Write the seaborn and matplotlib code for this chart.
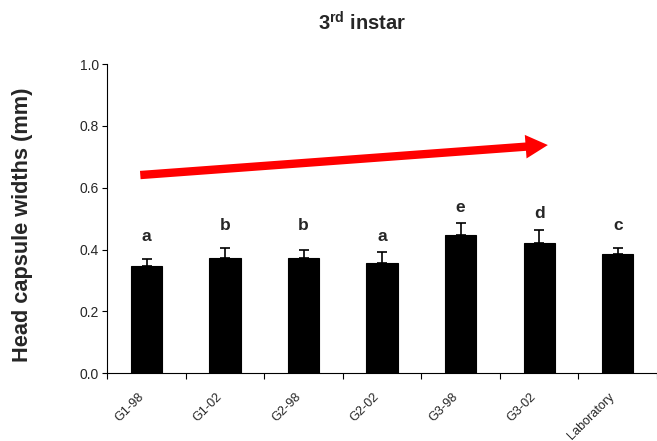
import matplotlib
matplotlib.use("Agg")
import matplotlib.pyplot as plt
from matplotlib.patches import FancyArrowPatch
from matplotlib.ticker import FixedLocator
import seaborn as sns
import numpy as np

categories = ["G1-98", "G1-02", "G2-98", "G2-02", "G3-98", "G3-02", "Laboratory"]
means = [0.346, 0.372, 0.372, 0.358, 0.446, 0.421, 0.387]
errors = [0.024, 0.033, 0.026, 0.035, 0.039, 0.043, 0.019]
letters = ["a", "b", "b", "a", "e", "d", "c"]
letter_heights = [0.443, 0.479, 0.479, 0.443, 0.537, 0.518, 0.479]
arrow_start = (-0.08, 0.641)
arrow_end = (5.11, 0.738)
yticks = [0.0, 0.2, 0.4, 0.6, 0.8, 1.0]

sns.set_style("ticks")
plt.rcParams["font.family"] = ["Liberation Sans", "DejaVu Sans"]
plt.rcParams["mathtext.fontset"] = "custom"
plt.rcParams["mathtext.bf"] = "Liberation Sans:bold"
plt.rcParams["mathtext.rm"] = "Liberation Sans"

fig = plt.figure(figsize=(6.57, 4.41), dpi=100)
ax = fig.add_axes([107.3 / 657, 1 - 373.3 / 441, (657 - 107.3) / 657, (373.3 - 64) / 441])

sns.barplot(x=categories, y=means, color="black", width=0.4, ax=ax,
            edgecolor="black", linewidth=0.8, saturation=1)
x = np.arange(len(categories))
ax.errorbar(x, means, yerr=[np.zeros(len(errors)), errors], fmt="none",
            ecolor="black", elinewidth=1.2, capsize=3.3, capthick=1.2)

for xi, lab, h in zip(x, letters, letter_heights):
    ax.text(xi, h, lab, ha="center", va="center", fontsize=12.5, fontweight="bold")

arrow = FancyArrowPatch(arrow_start, arrow_end, transform=ax.transData,
                        arrowstyle="simple,head_length=16,head_width=17,tail_width=6",
                        mutation_scale=1, color="#ff0000", linewidth=0,
                        shrinkA=0, shrinkB=0, clip_on=False)
ax.add_patch(arrow)

ax.set_xlim(-0.5, len(categories) - 0.5)
ax.set_ylim(0, 1.0)
ax.set_yticks(yticks)
ax.set_yticklabels([f"{v:.1f}" for v in yticks], fontsize=10)
ax.set_xticks(x)
ax.set_xticklabels([])
for xi, cat in zip(x, categories):
    ax.annotate(cat, xy=(xi, 0), xycoords=("data", "axes fraction"),
                xytext=(-6.5, -12.5), textcoords="offset points",
                rotation=45, ha="right", va="top", rotation_mode="anchor",
                fontsize=9.1, annotation_clip=False)
ax.xaxis.set_minor_locator(FixedLocator(np.arange(-0.5, len(categories), 1.0)))
ax.tick_params(axis="x", which="major", length=0)
ax.tick_params(axis="x", which="minor", length=4, width=0.8, direction="out", color="black")
ax.tick_params(axis="y", length=3.5, width=0.8, direction="out", color="black", pad=2.5)
for s in ["top", "right"]:
    ax.spines[s].set_visible(False)
for s in ["left", "bottom"]:
    ax.spines[s].set_color("black")
    ax.spines[s].set_linewidth(0.8)
ax.set_xlabel("")
ax.set_ylabel("Head capsule widths (mm)", fontsize=15.7, fontweight="bold")
ax.yaxis.set_label_coords(-0.136, 0.48)

fig.text(362 / 657, 1 - 23 / 441, r"$\mathbf{3^{rd}}$ $\mathbf{instar}$", ha="center", va="center", fontsize=14.5)

fig.savefig("out.png", dpi=100, facecolor="white")
